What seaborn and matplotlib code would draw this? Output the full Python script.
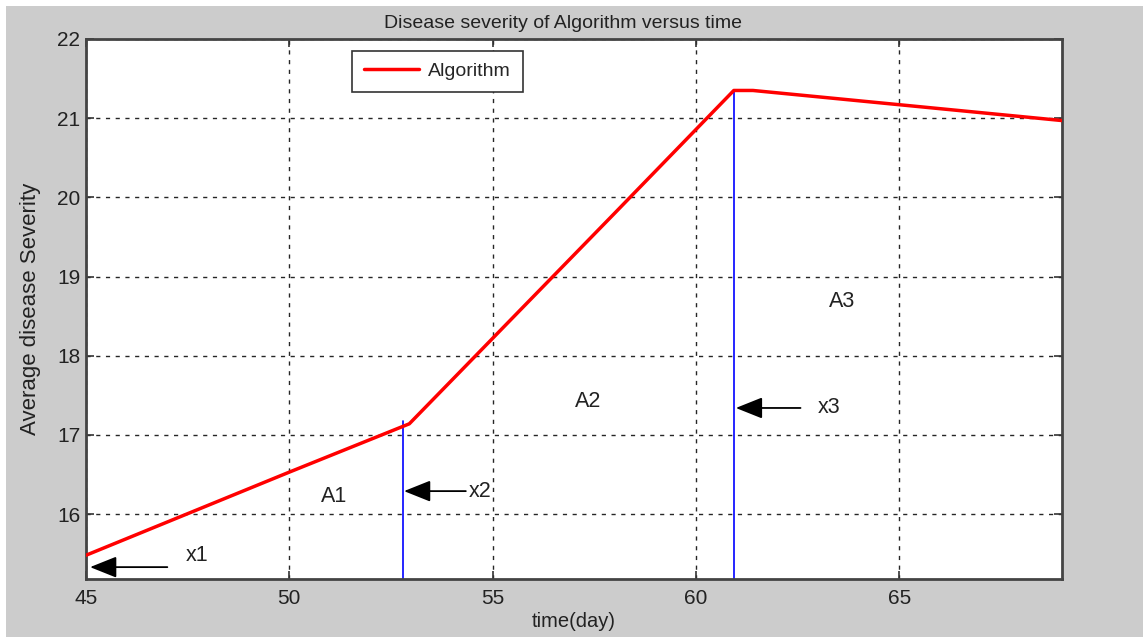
import matplotlib
matplotlib.use("Agg")
import matplotlib.pyplot as plt
import seaborn as sns
import pandas as pd
from matplotlib.patches import Rectangle

sns.set_style("whitegrid")
plt.rcParams['font.family'] = ['Liberation Sans', 'DejaVu Sans']

# red curve
time_day = [45.0, 50.0, 52.95, 55.0, 58.0, 60.93, 61.4, 65.0, 69.0]
severity = [15.48, 16.53, 17.14, 18.22, 19.80, 21.35, 21.35, 21.17, 20.97]

# blue marker lines (x, top)
mark_x = [52.8, 60.93]
mark_top = [17.17, 21.35]

# arrows: (tip x, tip y, tail x, label)
arrow_tip_x = [45.1, 52.82, 60.98]
arrow_y = [15.33, 16.29, 17.34]
arrow_tail_x = [47.0, 54.34, 62.57]
arrow_labels = ['x1', 'x2', 'x3']
arrow_text_x = [47.45, 54.4, 63.0]
arrow_text_y = [15.48, 16.29, 17.34]

# area labels
area_labels = ['A1', 'A2', 'A3']
area_x = [51.1, 57.35, 63.6]
area_y = [16.22, 17.42, 18.68]

W, H = 1143, 637
fig = plt.figure(figsize=(W / 100, H / 100), dpi=100)
fig.patch.set_facecolor('white')
fig.patches.append(Rectangle((6 / W, 0), 1, 1 - 6 / H, transform=fig.transFigure,
                             facecolor='#cccccc', edgecolor='none', zorder=-10))

ax = fig.add_axes([86 / W, 1 - 579 / H, (1062 - 86) / W, (579 - 39) / H])
ax.set_facecolor('white')

df = pd.DataFrame({'time': time_day, 'sev': severity})
sns.lineplot(data=df, x='time', y='sev', color='red', linewidth=2.5, label='Algorithm',
             ax=ax, zorder=3)

for mx, mt in zip(mark_x, mark_top):
    ax.plot([mx, mx], [15.18, mt], color='blue', linewidth=1.2, zorder=2)

for tx, ty, sx, lab, lx, ly in zip(arrow_tip_x, arrow_y, arrow_tail_x, arrow_labels,
                                   arrow_text_x, arrow_text_y):
    ax.annotate('', xy=(tx, ty), xytext=(sx, ty),
                arrowprops=dict(arrowstyle='-|>,head_length=0.75,head_width=0.3',
                                color='black', lw=1.3,
                                mutation_scale=22, shrinkA=0, shrinkB=0))
    ax.text(lx, ly, lab, fontsize=15.5, ha='left', va='center', color='#222222')

for lab, x, y in zip(area_labels, area_x, area_y):
    ax.text(x, y, lab, fontsize=15.5, ha='center', va='center', color='#222222')

ax.set_xlim(45, 69)
ax.set_ylim(15.18, 22)
ax.set_xticks([45, 50, 55, 60, 65])
ax.set_yticks([16, 17, 18, 19, 20, 21, 22])
ax.grid(True, color='black', linestyle=(0, (3, 4)), linewidth=1.0, alpha=0.85)
ax.tick_params(axis='both', direction='in', length=6, width=1.2, color='#333333',
               labelsize=15, labelcolor='#222222', pad=7)
ax.tick_params(axis='y', pad=4)
ax.tick_params(top=True, right=True, bottom=True, left=True)
for sp in ax.spines.values():
    sp.set_color('#444444')
    sp.set_linewidth(2)

ax.set_xlabel('time(day)', fontsize=14.5, color='#222222', labelpad=3)
ax.set_ylabel('Average disease Severity', fontsize=16, color='#222222', labelpad=12)
fig.text(563 / W, 1 - 24 / H, 'Disease severity of Algorithm versus time', fontsize=14,
         ha='center', va='center', color='#222222')

leg = ax.legend(loc='upper left', bbox_to_anchor=(0.273, 0.978), fontsize=14,
                frameon=True, fancybox=False, handlelength=2.8, handletextpad=0.5,
                borderpad=0.6, borderaxespad=0)
leg.get_frame().set_edgecolor('#333333')
leg.get_frame().set_linewidth(1.2)
leg.get_frame().set_alpha(1)

fig.savefig('out.png', dpi=100, facecolor=fig.get_facecolor())
